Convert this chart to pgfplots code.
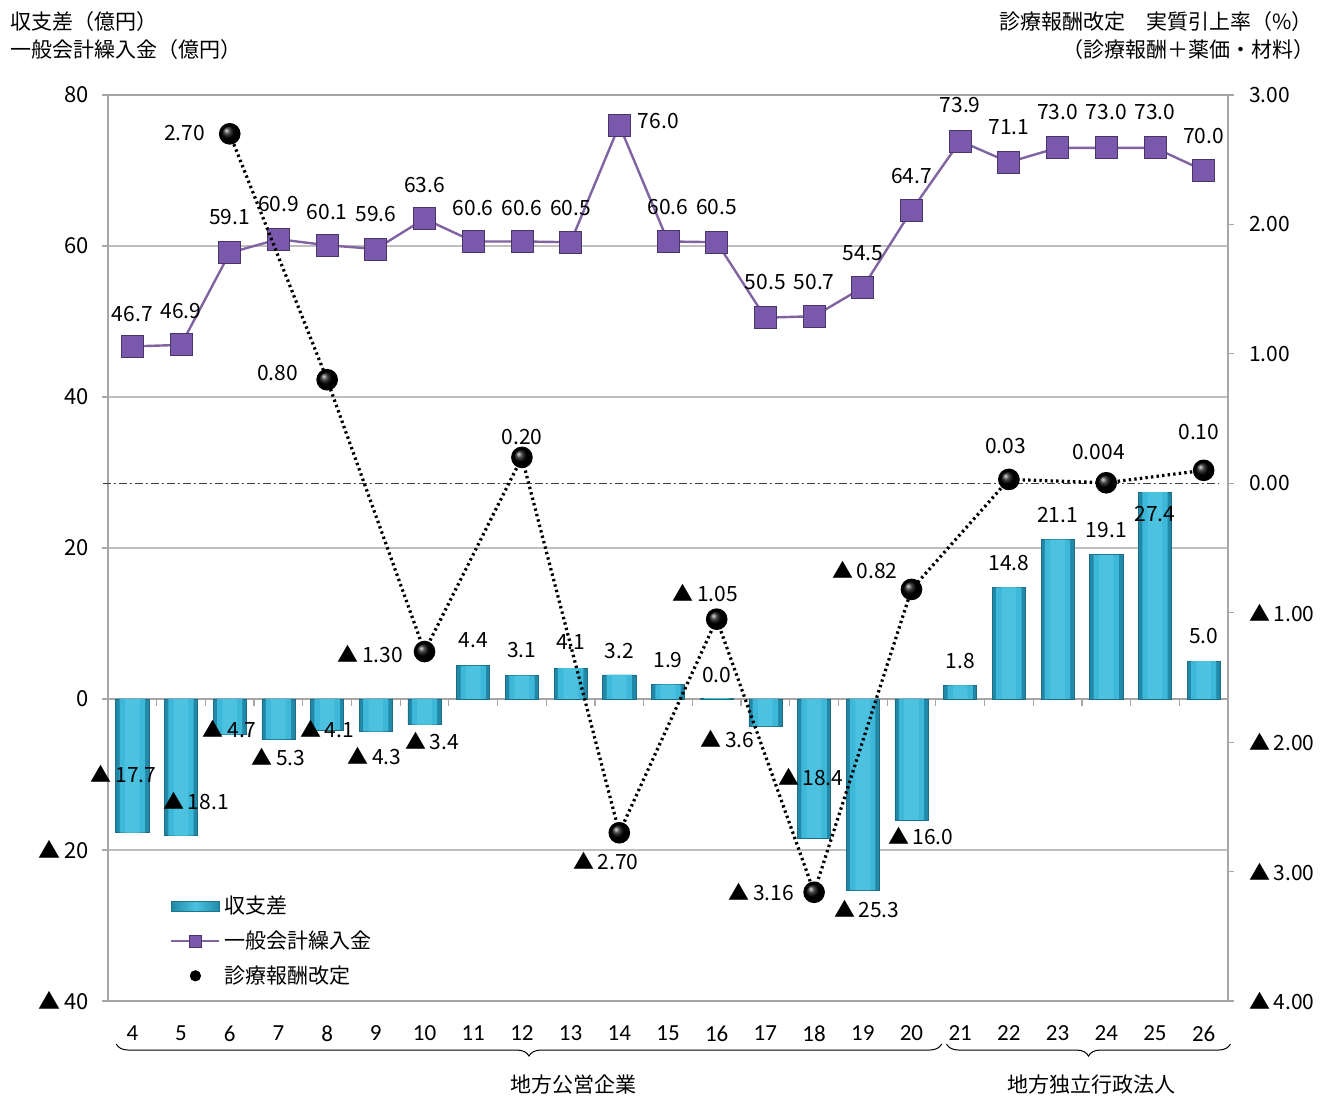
\documentclass[border=0pt]{standalone}
\usepackage{pgfplots}
\usepackage{pgfplotstable}
\pgfplotsset{compat=1.18}
\usepackage{fontspec}
\setmainfont{Noto Sans CJK JP}
\newfontfamily\calfont{Carlito}
\usetikzlibrary{decorations.pathreplacing}
\definecolor{barmid}{HTML}{3DB8D8}
\definecolor{barin}{HTML}{4CC2E0}
\definecolor{baredge}{HTML}{2288A8}
\definecolor{purp}{HTML}{7A58AC}
\definecolor{purpline}{HTML}{8064A2}
\definecolor{gridc}{HTML}{BFBFBF}
\definecolor{axc}{HTML}{A6A6A6}
\pgfplotstableread{
x y
4 -17.7
5 -18.1
6 -4.7
7 -5.3
8 -4.1
9 -4.3
10 -3.4
11 4.4
12 3.1
13 4.1
14 3.2
15 1.9
16 0.1
17 -3.6
18 -18.4
19 -25.3
20 -16.0
21 1.8
22 14.8
23 21.1
24 19.1
25 27.4
26 5.0
}\bardata
\begin{document}
\begin{tikzpicture}[lab/.style={font=\fontsize{10.5}{12}\selectfont, inner sep=0pt, text=black}]
\begin{axis}[
 scale only axis, width=560pt, height=453pt,
 xmin=3.5, xmax=26.5, ymin=-40, ymax=80,
 clip=false,
 axis line style={axc, line width=0.6pt},
 xtick={4,...,26},
 xticklabels={4,5,6,7,8,9,10,11,12,13,14,15,16,17,18,19,20,21,22,23,24,25,26},
 xtick style={draw=none},
 xticklabel style={font=\calfont\fontsize{11.5}{12}\selectfont, yshift=-6pt},
 ytick={-40,-20,0,20,40,60,80},
 yticklabels={▲\,40,▲\,20,0,20,40,60,80},
 ytick pos=left, tick align=outside, major tick length=3pt,
 ytick style={axc, line width=0.6pt},
 yticklabel style={font=\fontsize{11}{12}\selectfont, xshift=-3pt},
 ymajorgrids, grid style={gridc, line width=0.6pt},
 legend style={draw=none, fill=none, at={(0.05,0.125)}, anchor=north west,
   font=\fontsize{10.5}{12}\selectfont, row sep=3pt},
 legend cell align=left,
]
\coordinate (SW) at (rel axis cs:0,0);
\coordinate (NE) at (rel axis cs:1,1);
\draw[axc, line width=0.6pt] (axis cs:3.5,0) -- (axis cs:26.5,0);
\pgfplotsinvokeforeach{4.5,5.5,...,25.5}{\draw[axc, line width=0.6pt] (axis cs:#1,0) -- (axis cs:#1,-0.95);}
\addplot[ybar, bar width=0.68, bar shift=0pt, draw=baredge!80!black, line width=0.3pt, fill=baredge,
  legend image code/.code={\fill[left color=baredge, right color=baredge, middle color=barin, draw=baredge!85!black] (0pt,-2.5pt) rectangle (24pt,2.5pt);}]
 table[x=x, y=y] {\bardata};
\addlegendentry{収支差}
\addplot[ybar, bar width=0.52, bar shift=0pt, draw=none, fill=barmid, forget plot] table[x=x, y=y] {\bardata};
\addplot[ybar, bar width=0.3, bar shift=0pt, draw=none, fill=barin, forget plot] table[x=x, y=y] {\bardata};
\addplot[purpline, line width=1.2pt, mark=square*, mark size=5.5pt,
  mark options={fill=purp, draw=purp!60!black, line width=0.4pt},
  legend image code/.code={\draw[purpline, line width=1pt] (0pt,0pt) -- (24pt,0pt); \fill[purp, draw=purp!60!black, line width=0.3pt] (9pt,-3pt) rectangle (15pt,3pt);}]
 coordinates {(4,46.7)(5,46.9)(6,59.1)(7,60.9)(8,60.1)(9,59.6)(10,63.6)(11,60.6)(12,60.6)(13,60.5)(14,76.0)(15,60.6)(16,60.5)(17,50.5)(18,50.7)(19,54.5)(20,64.7)(21,73.9)(22,71.1)(23,73.0)(24,73.0)(25,73.0)(26,70.0)};
\addlegendentry{一般会計繰入金}
\addlegendimage{legend image code/.code={\fill[black] (12pt,0pt) circle (2.6pt);}}
\addlegendentry{診療報酬改定}
% line labels
\node[lab] at (axis cs:4,51.0) {46.7};
\node[lab] at (axis cs:5,51.4) {46.9};
\node[lab] at (axis cs:6,63.8) {59.1};
\node[lab] at (axis cs:7,65.6) {60.9};
\node[lab] at (axis cs:8,64.5) {60.1};
\node[lab] at (axis cs:9,64.2) {59.6};
\node[lab] at (axis cs:10,68.1) {63.6};
\node[lab] at (axis cs:11,65.0) {60.6};
\node[lab] at (axis cs:12,65.0) {60.6};
\node[lab] at (axis cs:13,65.0) {60.5};
\node[lab] at (axis cs:14.8,76.6) {76.0};
\node[lab] at (axis cs:15,65.2) {60.6};
\node[lab] at (axis cs:16,65.2) {60.5};
\node[lab] at (axis cs:17,55.2) {50.5};
\node[lab] at (axis cs:18,55.2) {50.7};
\node[lab] at (axis cs:19,59.1) {54.5};
\node[lab] at (axis cs:20,69.3) {64.7};
\node[lab] at (axis cs:21,78.7) {73.9};
\node[lab] at (axis cs:22,75.8) {71.1};
\node[lab] at (axis cs:23,77.7) {73.0};
\node[lab] at (axis cs:24,77.7) {73.0};
\node[lab] at (axis cs:25,77.7) {73.0};
\node[lab] at (axis cs:26,74.6) {70.0};
% bar labels
\node[lab] at (axis cs:3.82,-9.9) {▲\,17.7};
\node[lab] at (axis cs:5.31,-13.5) {▲\,18.1};
\node[lab] at (axis cs:6.0,-4.0) {▲\,4.7};
\node[lab] at (axis cs:7.0,-7.7) {▲\,5.3};
\node[lab] at (axis cs:8.0,-4.0) {▲\,4.1};
\node[lab] at (axis cs:8.97,-7.5) {▲\,4.3};
\node[lab] at (axis cs:10.16,-5.6) {▲\,3.4};
\node[lab] at (axis cs:11,7.8) {4.4};
\node[lab] at (axis cs:12,6.5) {3.1};
\node[lab] at (axis cs:13,7.5) {4.1};
\node[lab] at (axis cs:14,6.4) {3.2};
\node[lab] at (axis cs:15,5.2) {1.9};
\node[lab] at (axis cs:16,3.2) {0.0};
\node[lab] at (axis cs:16.22,-5.3) {▲\,3.6};
\node[lab] at (axis cs:17.93,-10.3) {▲\,18.4};
\node[lab] at (axis cs:19.08,-27.8) {▲\,25.3};
\node[lab] at (axis cs:20.19,-18.1) {▲\,16.0};
\node[lab] at (axis cs:21,5.0) {1.8};
\node[lab] at (axis cs:22,18.0) {14.8};
\node[lab] at (axis cs:23,24.4) {21.1};
\node[lab] at (axis cs:24,22.4) {19.1};
\node[lab] at (axis cs:25,24.5) {27.4};
\node[lab] at (axis cs:26,8.3) {5.0};
% revision labels
\node[lab] at (axis cs:5.07,75.0) {2.70};
\node[lab] at (axis cs:6.98,43.2) {0.80};
\node[lab] at (axis cs:8.89,6.0) {▲\,1.30};
\node[lab] at (axis cs:12.0,34.7) {0.20};
\node[lab] at (axis cs:13.72,-21.5) {▲\,2.70};
\node[lab] at (axis cs:15.77,14.0) {▲\,1.05};
\node[lab] at (axis cs:16.92,-25.6) {▲\,3.16};
\node[lab] at (axis cs:19.04,17.1) {▲\,0.82};
\node[lab] at (axis cs:21.93,33.5) {0.03};
\node[lab] at (axis cs:23.84,32.7) {0.004};
\node[lab] at (axis cs:25.9,35.4) {0.10};
% braces
\draw[black, line width=0.5pt, decorate, decoration={brace, mirror, amplitude=6pt}] (axis cs:3.67,-45.7) -- (axis cs:20.62,-45.7);
\draw[black, line width=0.5pt, decorate, decoration={brace, mirror, amplitude=6pt}] (axis cs:20.72,-45.7) -- (axis cs:26.55,-45.7);
\node[lab] at (axis cs:13.06,-51.0) {地方公営企業};
\node[lab] at (axis cs:23.7,-51.0) {地方独立行政法人};
\end{axis}
\begin{axis}[
 scale only axis, width=560pt, height=453pt,
 xmin=3.5, xmax=26.5, ymin=-4, ymax=3,
 clip=false,
 axis y line*=right, axis x line=none,
 axis line style={axc, line width=0.6pt},
 ytick={-4,-3,-2,-1,0,1,2,3},
 yticklabels={▲\,4.00,▲\,3.00,▲\,2.00,▲\,1.00,0.00,1.00,2.00,3.00},
 tick align=outside, major tick length=3pt,
 ytick style={axc, line width=0.6pt},
 yticklabel style={font=\fontsize{10.5}{12}\selectfont, anchor=west, xshift=4pt},
]
\draw[black!75, line width=0.5pt, dash pattern=on 4pt off 1.5pt on 1pt off 1.5pt] (axis cs:3.4,0) -- (axis cs:26.3,0);
\addplot[black, line width=1.6pt, dash pattern=on 1.2pt off 1.6pt, mark=ball, mark size=4.6pt, mark options={solid, draw=none, ball color=black}]
 coordinates {(6,2.70)(8,0.80)(10,-1.30)(12,0.20)(14,-2.70)(16,-1.05)(18,-3.16)(20,-0.82)(22,0.03)(24,0.004)(26,0.10)};
\end{axis}
\node[lab, anchor=west] at ([shift={(-49pt,36.5pt)}]SW |- NE) {収支差（億円）};
\node[lab, anchor=west] at ([shift={(-49pt,22.5pt)}]SW |- NE) {一般会計繰入金（億円）};
\node[lab, anchor=east] at ([shift={(42.5pt,36.5pt)}]NE) {診療報酬改定　実質引上率（\%）};
\node[lab, anchor=east] at ([shift={(43.5pt,22.5pt)}]NE) {（診療報酬＋薬価・材料）};
\pgfresetboundingbox
\path[use as bounding box] ([shift={(-54pt,-48.5pt)}]SW) rectangle ([shift={(49.5pt,47.5pt)}]NE);
\end{tikzpicture}
\end{document}
